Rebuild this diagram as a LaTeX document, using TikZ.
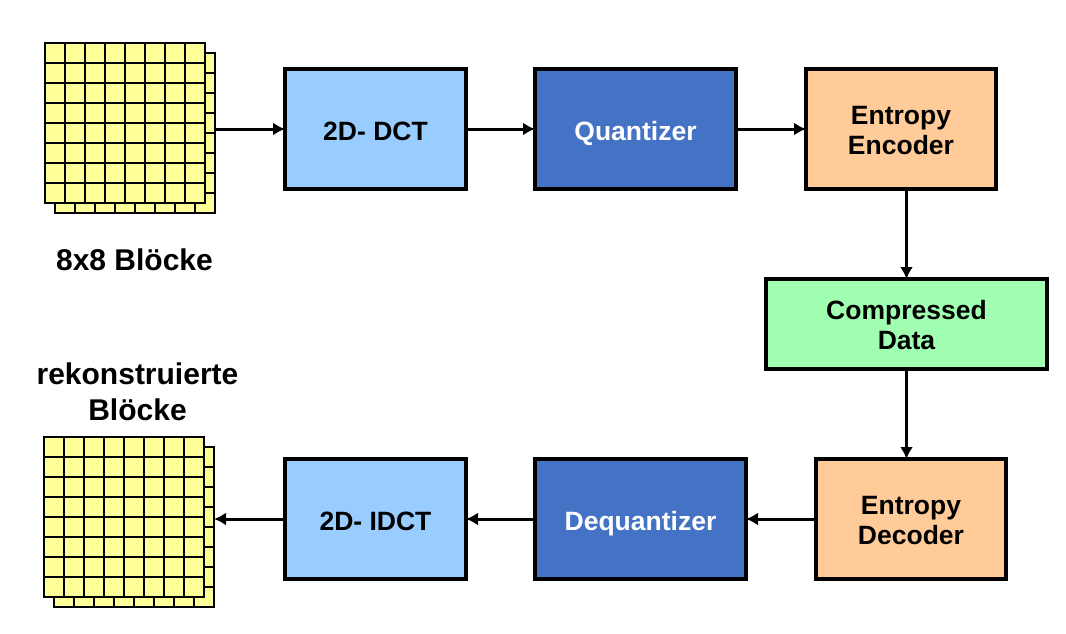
\documentclass[tikz,border=0pt]{standalone}
\usepackage{fontspec}
\setmainfont{Liberation Sans}
\usetikzlibrary{arrows.meta, positioning}
\definecolor{cellyellow}{HTML}{FFFF99}
\definecolor{dctblue}{HTML}{99CCFF}
\definecolor{quantblue}{HTML}{4472C4}
\definecolor{entropyorange}{HTML}{FFCC99}
\definecolor{datagreen}{HTML}{A0FFB0}
\tikzset{
  mbox/.style={rectangle, draw=black, fill=#1, line width=3.5pt,
               minimum height=120pt, align=center, inner sep=0pt, outer sep=0pt,
               text height=22pt, text depth=0pt,
               font=\fontsize{26.5}{30}\selectfont\bfseries},
  mbox/.default=dctblue,
  twolines/.style={text height=50pt},
  lbl/.style={font=\fontsize{30}{36}\selectfont\bfseries, align=center, inner sep=0pt},
  face/.style={rectangle, draw=black, fill=cellyellow, line width=2pt,
               minimum size=160pt, inner sep=0pt, outer sep=0pt},
  cell/.style={black, line width=2pt},
  arr/.style={-{Latex[length=12pt, width=13pt]}, line width=3pt, black},
}
\begin{document}
\begin{tikzpicture}[x=1pt, y=-1pt]
  \useasboundingbox (0,0) rectangle (1066,633);

  % sample blocks
  \foreach \name/\bx/\by in {blockin/124.5/123, blockout/124/517}{
    \node[face] (\name back) at (\bx+10,\by+10) {};
    \foreach \i in {1,...,7}{
      \draw[cell] (\bx+10-80+20*\i,\by+90) -- (\bx+10-80+20*\i,\by-70);
      \draw[cell] (\bx+90,\by+10-80+20*\i) -- (\bx-70,\by+10-80+20*\i);
    }
    \node[face] (\name) at (\bx,\by) {};
    \foreach \i in {1,...,7}{
      \draw[cell] (\bx-80+20*\i,\by-80) -- (\bx-80+20*\i,\by+80);
      \draw[cell] (\bx-80,\by-80+20*\i) -- (\bx+80,\by-80+20*\i);
    }
  }

  % top row
  \node[mbox=dctblue, minimum width=181pt] (dct) at (375.5,129) {2D- DCT};
  \node[mbox=quantblue, minimum width=201pt, text=white, right=69pt of dct] (quant) {Quantizer};
  \node[mbox=entropyorange, minimum width=190pt, twolines, right=70pt of quant] (enc) {Entropy\\Encoder};

  % middle
  \node[mbox=datagreen, minimum width=281pt, minimum height=90pt, twolines] (data) at (906.5,324) {Compressed\\Data};

  % bottom row
  \node[mbox=entropyorange, minimum width=190pt, twolines] (dec) at (911,519) {Entropy\\Decoder};
  \node[mbox=quantblue, minimum width=211pt, text=white, left=70pt of dec] (dequant) {Dequantizer};
  \node[mbox=dctblue, minimum width=181pt, left=69pt of dequant] (idct) {2D- IDCT};

  \node[lbl] (lblin) at (134.5,260) {8x8 Blöcke};
  \node[lbl] (lblout) at (137.5,392) {rekonstruierte\\Blöcke};

  \draw[arr] (blockinback.east |- dct.west) -- (dct.west);
  \draw[arr] (dct) -- (quant);
  \draw[arr] (quant) -- (enc);
  \draw[arr] (data.north |- enc.south) -- (data.north);
  \draw[arr] (data.south) -- (data.south |- dec.north);
  \draw[arr] (dec) -- (dequant);
  \draw[arr] (dequant) -- (idct);
  \draw[arr] (idct.west) -- (blockoutback.east |- idct.west);
\end{tikzpicture}
\end{document}
